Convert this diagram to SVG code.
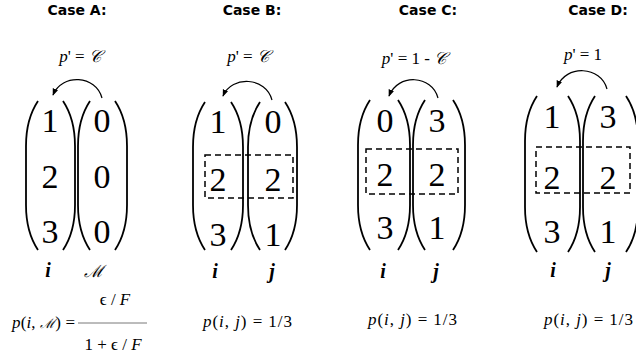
<svg xmlns="http://www.w3.org/2000/svg" width="636" height="358" viewBox="0 0 636 358">
<style>
.hdr{font-family:"DejaVu Sans",sans-serif;font-weight:bold;font-size:14px;text-anchor:middle;fill:#000}
.dig{font-size:34px;text-anchor:middle;fill:#000}
.mth{font-size:17px;fill:#000}
.it{font-style:italic}
.lbl{font-size:20px;font-weight:bold;font-style:italic;text-anchor:middle;fill:#000}
.par{fill:none;stroke:#000;stroke-width:1.8}
.box{fill:none;stroke:#000;stroke-width:1.5;stroke-dasharray:6 4}
.arc{fill:none;stroke:#000;stroke-width:1.2;marker-end:url(#ah)}
</style>
<defs>
<marker id="ah" viewBox="0 0 10 10" refX="9" refY="5" markerWidth="7" markerHeight="7" markerUnits="userSpaceOnUse" orient="auto">
<path d="M0,1 L10,5 L0,9 Z" fill="#000"/>
</marker>
</defs>
<rect width="636" height="358" fill="#fff"/>

<g id="caseA" font-family="Liberation Serif, serif">
<text class="hdr" x="77" y="15">Case A:</text>
<text class="mth" x="80" y="62" text-anchor="middle"><tspan class="it">p</tspan>' = <tspan class="it">𝒞</tspan></text>
<path class="par" d="M38,101 C28,116 26,131 26,146 L26,205 C26,220 28,235 38,250"/>
<path class="par" d="M63,101 C73,116 75,131 75,146 L75,205 C75,220 73,235 63,250"/>
<path class="par" d="M90,101 C80,116 78,131 78,146 L78,205 C78,220 80,235 90,250"/>
<path class="par" d="M115,101 C125,116 127,131 127,146 L127,205 C127,220 125,235 115,250"/>
<text class="dig" x="50" y="132">1</text><text class="dig" x="50" y="188">2</text><text class="dig" x="50" y="243">3</text>
<text class="dig" x="102" y="132">0</text><text class="dig" x="102" y="188">0</text><text class="dig" x="102" y="243">0</text>
<text class="lbl" x="48" y="277">i</text>
<text class="mth it" x="94" y="277" text-anchor="middle" font-size="14">ℳ</text>
<text class="mth" x="12" y="328" textLength="63" lengthAdjust="spacing"><tspan class="it">p</tspan>(<tspan class="it">i</tspan>, <tspan class="it" font-size="13">ℳ</tspan>) =</text>
<line x1="78" y1="323" x2="147" y2="323" stroke="#555" stroke-width="0.8"/>
<text class="mth" x="115" y="305" text-anchor="middle">ϵ / <tspan class="it">F</tspan></text>
<text class="mth" x="113" y="350" text-anchor="middle">1 + ϵ / <tspan class="it">F</tspan></text>
</g>

<g id="caseB" font-family="Liberation Serif, serif">
<text class="hdr" x="252" y="15">Case B:</text>
<text class="mth" x="248" y="62" text-anchor="middle"><tspan class="it">p</tspan>' = <tspan class="it">𝒞</tspan></text>
<path class="par" d="M205,102 C195,117 193,132 193,147 L193,205 C193,220 195,235 205,250"/>
<path class="par" d="M231,102 C241,117 243,132 243,147 L243,205 C243,220 241,235 231,250"/>
<path class="par" d="M260,102 C250,117 248,132 248,147 L248,205 C248,220 250,235 260,250"/>
<path class="par" d="M285,102 C295,117 297,132 297,147 L297,205 C297,220 295,235 285,250"/>
<text class="dig" x="218" y="133">1</text><text class="dig" x="218" y="191">2</text><text class="dig" x="218" y="246">3</text>
<text class="dig" x="273" y="133">0</text><text class="dig" x="273" y="191">2</text><text class="dig" x="273" y="246">1</text>
<rect class="box" x="205" y="155" width="88" height="43"/>
<text class="lbl" x="215" y="278">i</text>
<text class="lbl" x="272" y="278">j</text>
<text class="mth" x="203" y="327" textLength="89" lengthAdjust="spacing"><tspan class="it">p</tspan>(<tspan class="it">i</tspan>, <tspan class="it">j</tspan>) = 1/3</text>
</g>

<g id="caseC" font-family="Liberation Serif, serif">
<text class="hdr" x="428" y="15">Case C:</text>
<text class="mth" x="414" y="64" text-anchor="middle"><tspan class="it">p</tspan>' = 1 - <tspan class="it">𝒞</tspan></text>
<path class="par" d="M370,100 C360,115 358,130 358,145 L358,205 C358,220 360,235 370,250"/>
<path class="par" d="M398,100 C408,115 410,130 410,145 L410,205 C410,220 408,235 398,250"/>
<path class="par" d="M425,100 C415,115 413,130 413,145 L413,205 C413,220 415,235 425,250"/>
<path class="par" d="M453,100 C463,115 465,130 465,145 L465,205 C465,220 463,235 453,250"/>
<text class="dig" x="385" y="132">0</text><text class="dig" x="385" y="186">2</text><text class="dig" x="385" y="239">3</text>
<text class="dig" x="437" y="132">3</text><text class="dig" x="437" y="186">2</text><text class="dig" x="437" y="239">1</text>
<rect class="box" x="366" y="149" width="92" height="45"/>
<text class="lbl" x="383" y="278">i</text>
<text class="lbl" x="436" y="278">j</text>
<text class="mth" x="368" y="325" textLength="89" lengthAdjust="spacing"><tspan class="it">p</tspan>(<tspan class="it">i</tspan>, <tspan class="it">j</tspan>) = 1/3</text>
</g>

<g id="caseD" font-family="Liberation Serif, serif">
<text class="hdr" x="598" y="15">Case D:</text>
<text class="mth" x="583" y="60" text-anchor="middle"><tspan class="it">p</tspan>' = 1</text>
<path class="par" d="M537,96 C527,111 525,126 525,141 L525,207 C525,222 527,237 537,252"/>
<path class="par" d="M568,96 C578,111 580,126 580,141 L580,207 C580,222 578,237 568,252"/>
<path class="par" d="M595,96 C585,111 583,126 583,141 L583,207 C583,222 585,237 595,252"/>
<path class="par" d="M626,96 C636,111 638,126 638,141 L638,207 C638,222 636,237 626,252"/>
<text class="dig" x="552" y="128">1</text><text class="dig" x="552" y="189">2</text><text class="dig" x="552" y="243">3</text>
<text class="dig" x="608" y="128">3</text><text class="dig" x="608" y="189">2</text><text class="dig" x="608" y="243">1</text>
<rect class="box" x="536" y="147" width="94" height="46"/>
<text class="lbl" x="553" y="277">i</text>
<text class="lbl" x="608" y="277">j</text>
<text class="mth" x="544" y="325" textLength="89" lengthAdjust="spacing"><tspan class="it">p</tspan>(<tspan class="it">i</tspan>, <tspan class="it">j</tspan>) = 1/3</text>
</g>

<g id="connectors">
<path class="arc" d="M102,98 C96,75 62,73 53,95"/>
<path class="arc" d="M272,100 C266,77 232,75 223,96"/>
<path class="arc" d="M438,98 C432,75 398,73 389,96"/>
<path class="arc" d="M607,89 C601,66 566,64 557,87"/>
</g>
</svg>
